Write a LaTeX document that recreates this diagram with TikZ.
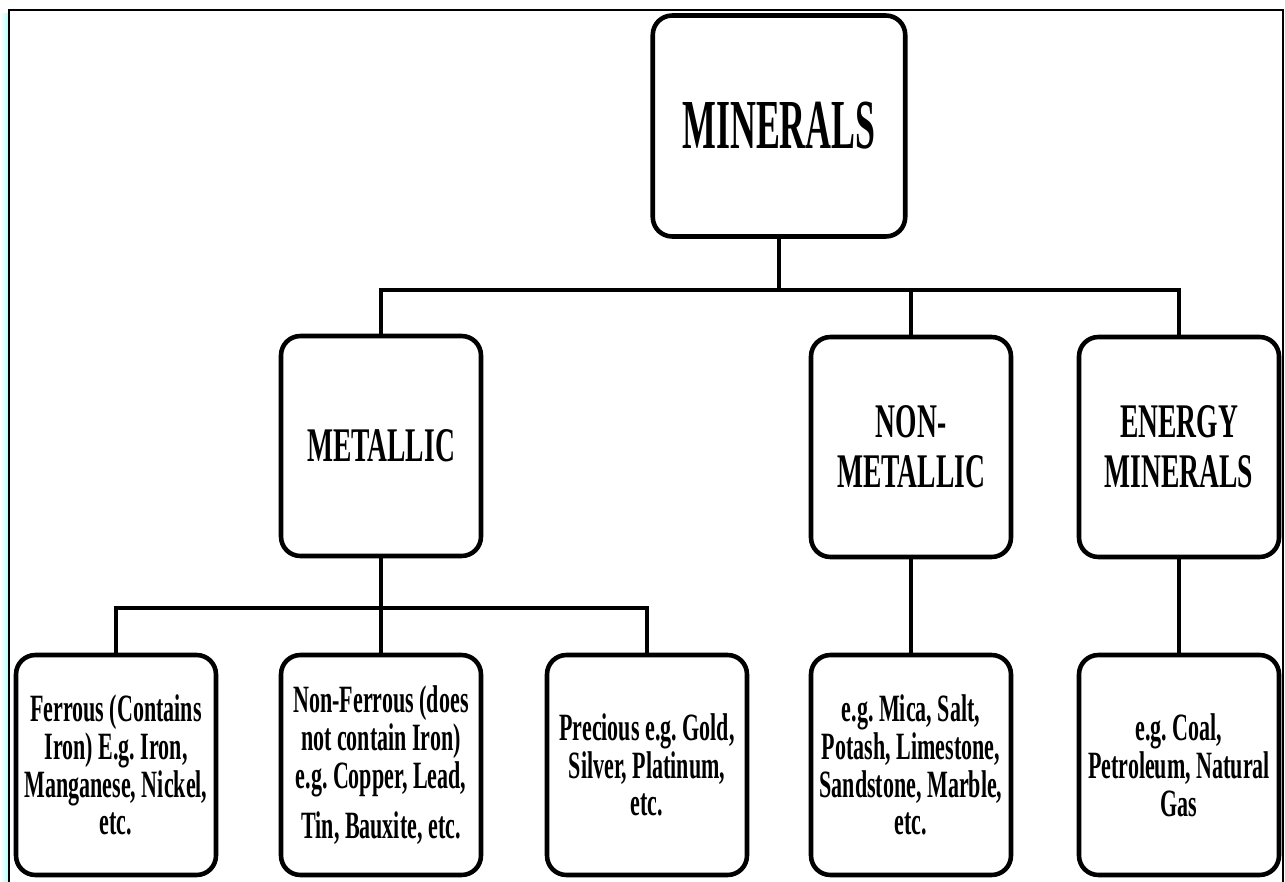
\documentclass[tikz,border=0pt]{standalone}
\usepackage{fontspec}
\setmainfont{Liberation Serif}
\newfontfamily\chartfont{Liberation Serif}[FakeStretch=0.57]
\newfontfamily\titlefont{Liberation Serif}[FakeStretch=0.51]
\usetikzlibrary{calc}
\frenchspacing

\tikzset{
  box/.style={draw, line width=2.6pt, rounded corners=11pt, minimum width=4.0cm, minimum height=4.4cm, inner sep=0pt, align=center},
  link/.style={line width=2.3pt},
  head/.style={font=\chartfont\bfseries\fontsize{27.5}{28.5}\selectfont},
  body/.style={font=\chartfont\bfseries\fontsize{22}{21.5}\selectfont},
}

\begin{document}
\begin{tikzpicture}[x=0.02cm, y=-0.02cm]
		%%%%% START %%%%%
		\useasboundingbox (0, 0) rectangle (1285, 882);
		
		\shade[left color=white, right color=cyan!30] (0, 14) rectangle (8, 882);
		\draw[line width=1.6pt] (9, 882) -- (9, 10) -- (1283, 10) -- (1283, 882);
		
		\node[box, minimum width=5.05cm, minimum height=4.42cm, font=\titlefont\bfseries\fontsize{40}{40}\selectfont] (minerals) at (779, 126) {MINERALS};
		
		\node[box, head] (metallic) at (381, 446) {METALLIC};
		\node[box, head] (nonmetal) at (911, 447) {NON-\\METALLIC};
		\node[box, head] (energy) at (1179, 447) {ENERGY\\MINERALS};
		
		\node[box, body] (ferrous) at (116, 765) {Ferrous (Contains\\Iron) E.g. Iron,\\Manganese, Nickel,\\etc.};
		\node[box, body] (nonferrous) at (381, 765) {Non-Ferrous (does\\not contain Iron)\\e.g. Copper, Lead,\\[7pt]Tin, Bauxite, etc.};
		\node[box, body] (precious) at (647, 765) {Precious e.g. Gold,\\Silver, Platinum,\\etc.};
		\node[box, body] (nmex) at (911, 765) {e.g. Mica, Salt,\\Potash, Limestone,\\Sandstone, Marble,\\etc.};
		\node[box, body] (enex) at (1179, 765) {e.g. Coal,\\Petroleum, Natural\\Gas};
		
		\coordinate (topbar) at (779, 290);
		\coordinate (subbar) at (381, 608);
		
		\draw[link] (minerals.south) -- (topbar);
		\draw[link] (metallic.north) -- (metallic.north |- topbar) -- (energy.north |- topbar) -- (energy.north);
		\draw[link] (nonmetal.north) -- (nonmetal.north |- topbar);
		
		\draw[link] (metallic.south) -- (subbar);
		\draw[link] (ferrous.north) -- (ferrous.north |- subbar) -- (precious.north |- subbar) -- (precious.north);
		\draw[link] (nonferrous.north) -- (nonferrous.north |- subbar);
		
		\draw[link] (nonmetal.south) -- (nmex.north);
		\draw[link] (energy.south) -- (enex.north);
		
		%%%%% END %%%%%
\end{tikzpicture}
\end{document}
